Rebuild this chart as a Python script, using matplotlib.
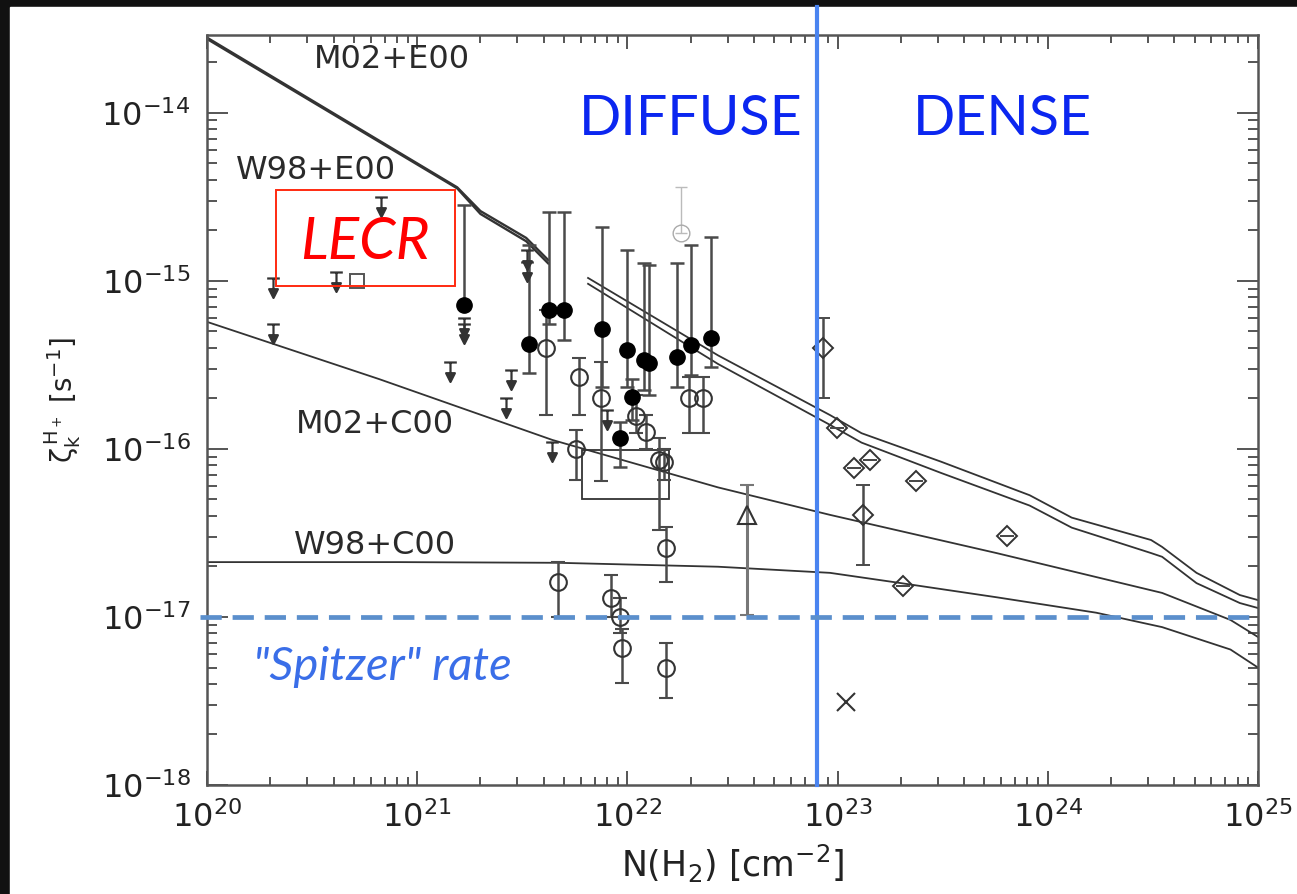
import matplotlib
matplotlib.use("Agg")
import numpy as np
import matplotlib.pyplot as plt
from matplotlib.path import Path
from matplotlib.patches import Rectangle

# --- model curves: N(H2) [cm^-2] and zeta [s^-1] ---
N_E00_LOW = [1e20, 1.55e21, 2.0e21, 3.3e21, 4.2e21]
Z_M02_E00_LOW = [2.8e-14, 3.6e-15, 2.6e-15, 1.8e-15, 1.33e-15]
Z_W98_E00_LOW = [2.75e-14, 3.55e-15, 2.5e-15, 1.72e-15, 1.27e-15]

N_E00_HIGH = [6.5e21, 2.7e22, 9.2e22, 1.3e23, 3.1e23, 8.2e23, 1.3e24,
              3.1e24, 3.5e24, 5.1e24, 8.2e24, 1e25]
Z_M02_E00_HIGH = [1.04e-15, 3.6e-16, 1.59e-16, 1.24e-16, 8.4e-17, 5.3e-17,
                  3.9e-17, 2.87e-17, 2.61e-17, 1.83e-17, 1.35e-17, 1.26e-17]
Z_W98_E00_HIGH = [9.6e-16, 3.2e-16, 1.39e-16, 1.09e-16, 7.2e-17, 4.6e-17,
                  3.4e-17, 2.4e-17, 2.28e-17, 1.59e-17, 1.21e-17, 1.13e-17]

N_M02_C00 = [1e20, 6.6e20, 4.4e21, 2.7e22, 9.2e22, 5.7e23, 3.5e24, 7.4e24, 1e25]
Z_M02_C00 = [5.7e-16, 2.6e-16, 1.13e-16, 5.9e-17, 4.05e-17, 2.4e-17,
             1.39e-17, 9.6e-18, 7.6e-18]

N_W98_C00 = [1e20, 8.2e20, 4.7e21, 2.7e22, 9.2e22, 2.0e23, 5.7e23, 1.7e24,
             3.5e24, 7.4e24, 1e25]
Z_W98_C00 = [2.12e-17, 2.12e-17, 2.1e-17, 1.99e-17, 1.83e-17, 1.59e-17,
             1.31e-17, 1.06e-17, 8.7e-18, 6.4e-18, 5.0e-18]

# --- observations ---
# filled circles: N, zeta, lower end, upper end of the error bar
FC_N = [1.67e21, 3.4e21, 4.25e21, 5.0e21, 7.6e21, 1.0e22, 1.2e22, 1.27e22,
        1.73e22, 2.0e22, 2.5e22, 1.05e22, 9.2e21]
FC_Z = [7.2e-16, 4.2e-16, 6.7e-16, 6.7e-16, 5.2e-16, 3.9e-16, 3.4e-16,
        3.25e-16, 3.5e-16, 4.16e-16, 4.6e-16, 2.04e-16, 1.16e-16]
FC_LO = [7.2e-16, 2.83e-16, 5.5e-16, 4.46e-16, 2.34e-16, 2.34e-16, 2.24e-16,
         2.1e-16, 2.34e-16, 2.75e-16, 3.08e-16, 1.49e-16, 7.8e-17]
FC_HI = [2.83e-15, 1.64e-15, 2.58e-15, 2.58e-15, 2.1e-15, 1.53e-15, 1.28e-15,
         1.24e-15, 1.28e-15, 1.64e-15, 1.83e-15, 2.6e-16, 1.45e-16]

# open circles
OC_N = [4.1e21, 5.9e21, 7.5e21, 1.1e22, 1.23e22, 1.42e22, 1.5e22, 5.7e21,
        1.97e22, 2.28e22, 1.53e22, 4.7e21, 8.4e21, 9.2e21, 9.4e21, 1.53e22]
OC_Z = [4.0e-16, 2.68e-16, 2.0e-16, 1.57e-16, 1.26e-16, 8.6e-17, 8.3e-17,
        1.0e-16, 2.0e-16, 2.0e-16, 2.58e-17, 1.62e-17, 1.3e-17, 1.0e-17,
        6.5e-18, 5.0e-18]
OC_LO = [1.59e-16, 1.59e-16, 6.4e-17, 1.24e-16, 1.0e-16, 3.3e-17, 6.5e-17,
         6.5e-17, 1.24e-16, 1.24e-16, 1.62e-17, 1.0e-17, 1.0e-17, 8.0e-18,
         4.05e-18, 3.3e-18]
OC_HI = [6.7e-16, 3.48e-16, 3.3e-16, 2.1e-16, 1.6e-16, 1.16e-16, 1.0e-16,
         1.3e-16, 2.68e-16, 2.68e-16, 3.43e-17, 2.12e-17, 1.78e-17, 1.3e-17,
         8.5e-18, 7.0e-18]

# faint open circle with a long thin bar
FAINT_N = [1.8e22]
FAINT_Z = [1.93e-15]
FAINT_HI = [3.6e-15]

# upper limits
UL_N = [6.7e20, 2.06e20, 4.1e20, 2.06e20, 1.67e21, 1.67e21, 1.44e21,
        3.34e21, 3.34e21, 2.8e21, 2.65e21, 4.4e21, 8.0e21]
UL_Z = [3.16e-15, 1.04e-15, 1.13e-15, 5.5e-16, 6.0e-16, 5.5e-16, 3.3e-16,
        1.53e-15, 1.3e-15, 2.95e-16, 2.0e-16, 1.1e-16, 1.7e-16]

SQ_N = [5.2e20]
SQ_Z = [1.0e-15]

TRI_N = [3.7e22]
TRI_Z = [4.05e-17]
TRI_LO = [1.03e-17]
TRI_HI = [6.1e-17]

DIA_N = [8.5e22, 9.9e22, 1.2e23, 1.42e23, 2.35e23, 1.32e23, 6.4e23, 2.04e23]
DIA_Z = [4.0e-16, 1.33e-16, 7.7e-17, 8.6e-17, 6.45e-17, 4.05e-17, 3.03e-17, 1.53e-17]
DIA_LO = [2.0e-16, 1.33e-16, 7.7e-17, 8.6e-17, 6.45e-17, 2.04e-17, 3.03e-17, 1.53e-17]
DIA_HI = [6.0e-16, 1.33e-16, 7.7e-17, 8.6e-17, 6.45e-17, 6.1e-17, 3.03e-17, 1.53e-17]

CROSS_N = [1.1e23]
CROSS_Z = [3.12e-18]

# range box
BOX_N = [6.1e21, 1.57e22]
BOX_Z = [5.0e-17, 9.9e-17]

SPITZER_RATE = 1e-17
N_DIFFUSE_DENSE = 8.0e22

X_TICKS = [1e20, 1e21, 1e22, 1e23, 1e24, 1e25]
Y_TICKS = [1e-18, 1e-17, 1e-16, 1e-15, 1e-14]

INK = "#333333"
FRAME = "#555555"


def upper_limit_marker():
    # bar at the value, short stem, filled arrow head below
    verts = [(-0.65, 0), (0.65, 0), (0, 0), (0, -1.1),
             (-0.45, -1.1), (0.45, -1.1), (0, -2.0), (-0.45, -1.1)]
    codes = [Path.MOVETO, Path.LINETO, Path.MOVETO, Path.LINETO,
             Path.MOVETO, Path.LINETO, Path.LINETO, Path.CLOSEPOLY]
    return Path(verts, codes)


def errbar(ax, n, z, lo, hi, **kw):
    z = np.asarray(z)
    yerr = [z - np.asarray(lo), np.asarray(hi) - z]
    ax.errorbar(n, z, yerr=yerr, ecolor=kw.pop("ecolor", "#4a4a4a"),
                elinewidth=kw.pop("elinewidth", 1.8), capsize=5,
                capthick=1.8, linestyle="none", **kw)


def plot_ionization_rate():
    plt.rcParams["font.family"] = ["DejaVu Sans"]
    plt.rcParams["mathtext.default"] = "regular"

    fig = plt.figure(figsize=(12.97, 8.94), dpi=100)
    fig.patch.set_facecolor("#111111")
    fig.add_artist(Rectangle((10 / 1297, 0), 1, 1 - 7 / 894,
                             transform=fig.transFigure, color="white", zorder=-10))

    ax = fig.add_axes([0.1596, 0.1219, 0.8103, 0.8389])
    ax.set_xscale("log")
    ax.set_yscale("log")
    ax.set_xticks(X_TICKS)
    ax.set_yticks(Y_TICKS)
    ax.set_xlim(1e20, 1e25)
    ax.set_ylim(1e-18, 2.9e-14)

    # model curves
    ax.plot(N_E00_LOW, Z_M02_E00_LOW, color=INK, lw=1.7)
    ax.plot(N_E00_LOW, Z_W98_E00_LOW, color=INK, lw=1.7)
    ax.plot(N_E00_HIGH, Z_M02_E00_HIGH, color=INK, lw=1.3)
    ax.plot(N_E00_HIGH, Z_W98_E00_HIGH, color=INK, lw=1.3)
    ax.plot(N_M02_C00, Z_M02_C00, color=INK, lw=1.3)
    ax.plot(N_W98_C00, Z_W98_C00, color=INK, lw=1.3)

    ax.add_patch(Rectangle((BOX_N[0], BOX_Z[0]), BOX_N[1] - BOX_N[0],
                           BOX_Z[1] - BOX_Z[0], fill=False, ec=INK, lw=1.3))

    # data
    errbar(ax, FC_N, FC_Z, FC_LO, FC_HI, fmt="o", ms=11, mfc="black", mec="black")
    errbar(ax, OC_N, OC_Z, OC_LO, OC_HI, fmt="o", ms=12, mfc="none",
           mec=INK, mew=1.5)
    ax.errorbar(FAINT_N, FAINT_Z, yerr=[[0], [FAINT_HI[0] - FAINT_Z[0]]],
                fmt="o", ms=12, mfc="none", mec="#aaaaaa", ecolor="#bbbbbb",
                elinewidth=1.0, capsize=4)
    ax.plot(UL_N, UL_Z, linestyle="none", marker=upper_limit_marker(),
            ms=28, color=INK, mew=1.6)
    ax.plot(SQ_N, SQ_Z, "s", ms=10, mfc="none", mec="#555555", mew=1.4)
    errbar(ax, TRI_N, TRI_Z, TRI_LO, TRI_HI, fmt="^", ms=13, mfc="none",
           mec=INK, mew=1.5, ecolor="#777777", elinewidth=2.2)
    errbar(ax, DIA_N, DIA_Z, DIA_LO, DIA_HI, fmt="D", ms=10, mfc="none",
           mec=INK, mew=1.4)
    ax.plot(CROSS_N, CROSS_Z, "x", ms=13, color=INK, mew=1.5)

    # curve labels
    for label, xf, yf in [("M02+E00", 0.176, 0.968), ("W98+E00", 0.104, 0.82),
                          ("M02+C00", 0.160, 0.481), ("W98+C00", 0.160, 0.32)]:
        ax.text(xf, yf, label, transform=ax.transAxes, fontsize=23,
                color="#2a2a2a", ha="center", va="center")

    # axes styling (IDL-like inward ticks on all sides)
    for side in ax.spines.values():
        side.set_color(FRAME)
        side.set_linewidth(1.8)
    ax.tick_params(which="both", direction="in", top=True, right=True,
                   color=FRAME, width=1.4, labelcolor="#222222", labelsize=23)
    ax.tick_params(axis="x", which="major", length=10, pad=12)
    ax.tick_params(axis="x", which="minor", length=6)
    ax.tick_params(axis="y", which="major", length=15, pad=12)
    ax.tick_params(axis="y", which="minor", length=7)

    ax.set_xlabel(r"N(H$_2$) [cm$^{-2}$]", fontsize=25, color="#222222", labelpad=6)
    fig.text(63 / 1297, 1 - 400 / 894, r"$\zeta_k^{\,H_+}$ [s$^{-1}$]",
             rotation=90, fontsize=20, color="#222222", ha="center", va="center")

    # overlay: regimes, Spitzer rate, LECR box
    ax.axvline(N_DIFFUSE_DENSE, ymin=0, ymax=1.037, color="#4a84f0", lw=3.0,
               clip_on=False, zorder=6)
    ax.plot([9.3e19, 1e25], [SPITZER_RATE, SPITZER_RATE], color="#5b8fcc",
            lw=3.4, dashes=(4.5, 2.3), clip_on=False, zorder=6)

    ax.text(0.460, 0.888, "DIFFUSE", transform=ax.transAxes, fontsize=40,
            family="Lato", color="#0b26f0", ha="center", va="center")
    ax.text(0.757, 0.888, "DENSE", transform=ax.transAxes, fontsize=40,
            family="Lato", color="#0b26f0", ha="center", va="center")
    ax.text(0.044, 0.158, "\"Spitzer\" rate", transform=ax.transAxes,
            fontsize=34, family="Lato", style="italic", color="#3a6ee8",
            ha="left", va="center")

    ax.add_patch(Rectangle((69 / 1051, 499 / 750), 179 / 1051, 96 / 750,
                           transform=ax.transAxes, fill=False, ec="#ff2a10",
                           lw=1.4, zorder=7))
    ax.text(0.150, 0.724, "LECR", transform=ax.transAxes, fontsize=42,
            family="Lato", style="italic", color="#ff0000", ha="center",
            va="center", zorder=7)

    fig.savefig("out.png", dpi=100, facecolor=fig.get_facecolor())
    plt.close(fig)


def main():
    plot_ionization_rate()


if __name__ == "__main__":
    main()
